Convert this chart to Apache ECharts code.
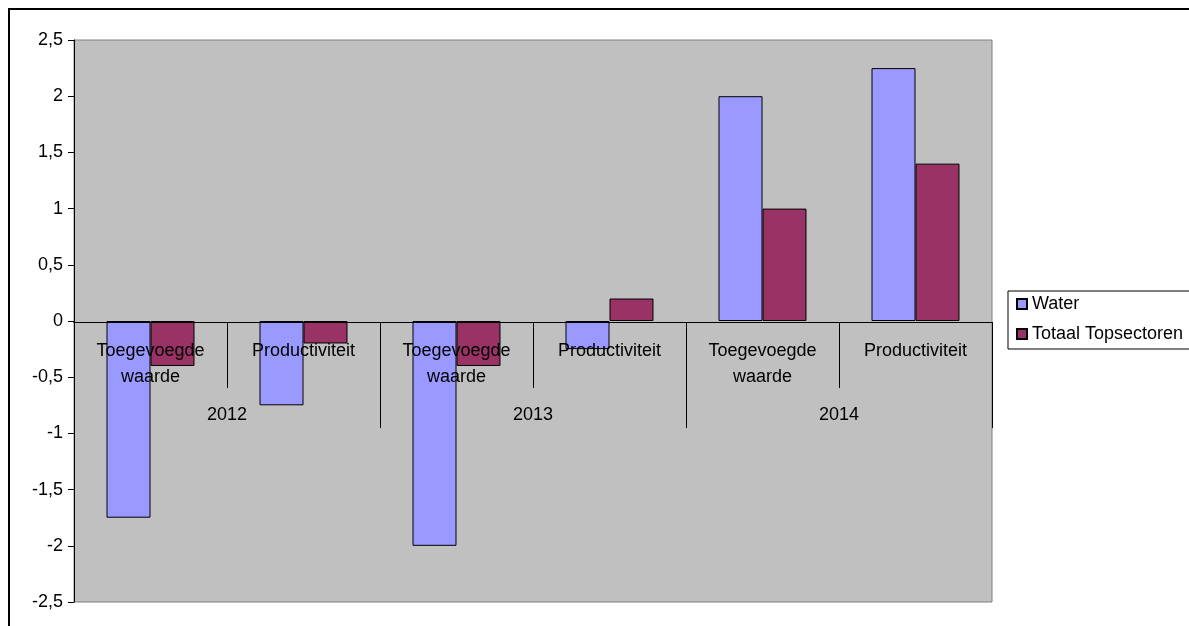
<!DOCTYPE html>
<html>
<head>
<meta charset="utf-8">
<script src="https://cdn.jsdelivr.net/npm/echarts@6/dist/echarts.min.js"></script>
<style>
  html, body { margin: 0; padding: 0; background: #fff; }
  #chart { width: 1189px; height: 626px; }
</style>
</head>
<body>
<div id="chart"></div>
<script>
var years = ['2012', '2013', '2014'];
var measures = ['Toegevoegde\nwaarde', 'Productiviteit', 'Toegevoegde\nwaarde', 'Productiviteit', 'Toegevoegde\nwaarde', 'Productiviteit'];
var waterValues = [-1.75, -0.75, -2.0, -0.25, 2.0, 2.25];
var topsectorValues = [-0.4, -0.2, -0.4, 0.2, 1.0, 1.4];

var font = 'Liberation Sans, Arial, sans-serif';
// de nul-lijn ligt halverwege het plotgebied (602 - 322)
var zeroOffset = -280;

var option = {
  backgroundColor: '#fff',
  animation: false,
  textStyle: { fontFamily: font },
  // buitenrand
  graphic: [{
    type: 'rect',
    shape: { x: 9, y: 9, width: 1300, height: 800 },
    style: { fill: 'none', stroke: '#000', lineWidth: 2 },
    silent: true
  }],
  grid: {
    left: 74, right: 197, top: 40, bottom: 24,
    outerBoundsMode: 'none',
    containLabel: false,
    show: true,
    backgroundColor: '#c0c0c0',
    borderColor: '#808080',
    borderWidth: 1
  },
  legend: {
    orient: 'vertical',
    left: 1008,
    top: 291,
    padding: [4, 8, 6, 8],
    itemGap: 12,
    itemWidth: 10,
    itemHeight: 10,
    icon: 'rect',
    borderColor: '#000',
    borderWidth: 1,
    textStyle: { fontFamily: font, fontSize: 18, color: '#000' },
    data: ['Water', 'Totaal Topsectoren']
  },
  xAxis: [
    {
      type: 'category',
      position: 'bottom',
      offset: zeroOffset,
      data: measures,
      z: 10,
      axisLine: { onZero: false, lineStyle: { color: '#000', width: 1 } },
      axisTick: { show: true, length: 66, alignWithLabel: false, lineStyle: { color: '#000' } },
      axisLabel: {
        interval: 0, margin: 16, color: '#000',
        fontFamily: font, fontSize: 18, lineHeight: 26
      },
      splitLine: { show: false }
    },
    {
      // jaren, tweede niveau van de categorie-as
      type: 'category',
      position: 'bottom',
      offset: zeroOffset,
      data: years,
      z: 10,
      axisLine: { onZero: false, lineStyle: { color: '#000', width: 1 } },
      axisTick: { show: true, length: 106, alignWithLabel: false, lineStyle: { color: '#000' } },
      axisLabel: {
        interval: 0, margin: 80, color: '#000',
        fontFamily: font, fontSize: 18, lineHeight: 26
      },
      splitLine: { show: false }
    }
  ],
  yAxis: {
    type: 'value',
    min: -2.5,
    max: 2.5,
    interval: 0.5,
    axisLine: { show: true, lineStyle: { color: '#000' } },
    axisTick: { show: true, length: 6, lineStyle: { color: '#000' } },
    splitLine: { show: false },
    axisLabel: {
      color: '#000', fontFamily: font, fontSize: 18, margin: 11,
      formatter: function (v) { return String(v).replace('.', ','); }
    }
  },
  series: [
    {
      name: 'Water',
      type: 'bar',
      xAxisIndex: 0,
      data: waterValues,
      barGap: '0%',
      barCategoryGap: '42.5%',
      itemStyle: { color: '#9999ff', borderColor: '#000', borderWidth: 1 }
    },
    {
      name: 'Totaal Topsectoren',
      type: 'bar',
      xAxisIndex: 0,
      data: topsectorValues,
      barGap: '0%',
      barCategoryGap: '42.5%',
      itemStyle: { color: '#993366', borderColor: '#000', borderWidth: 1 }
    }
  ]
};

var myChart = echarts.init(document.getElementById('chart'));
myChart.setOption(option);
</script>
</body>
</html>
